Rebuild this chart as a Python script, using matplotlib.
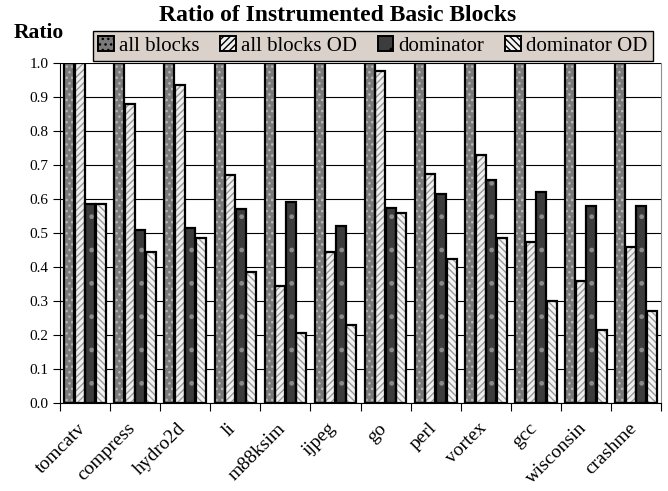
import numpy as np
import matplotlib.pyplot as plt
import matplotlib.transforms as mtransforms

plt.rcParams['font.family'] = ['Liberation Serif', 'DejaVu Serif']
plt.rcParams['hatch.linewidth'] = 1.0

# -----------------------------
# Data
# -----------------------------
benchmarks = ["tomcatv", "compress", "hydro2d", "li", "m88ksim", "ijpeg",
              "go", "perl", "vortex", "gcc", "wisconsin", "crashme"]
all_blocks = [1.0, 1.0, 1.0, 1.0, 1.0, 1.0, 1.0, 1.0, 1.0, 1.0, 1.0, 1.0]
all_blocks_od = [1.0, 0.88, 0.935, 0.67, 0.345, 0.445, 0.975, 0.675, 0.73, 0.475, 0.36, 0.46]
dominator = [0.585, 0.51, 0.515, 0.57, 0.59, 0.52, 0.575, 0.615, 0.655, 0.62, 0.58, 0.58]
dominator_od = [0.585, 0.445, 0.485, 0.385, 0.205, 0.23, 0.56, 0.425, 0.485, 0.30, 0.215, 0.27]
series_names = ["all blocks", "all blocks OD", "dominator", "dominator OD"]
y_ticks = [0.0, 0.1, 0.2, 0.3, 0.4, 0.5, 0.6, 0.7, 0.8, 0.9, 1.0]

# -----------------------------
# Styles
# -----------------------------
styles = [
    dict(face="#7a7a7a", hatch="...", hcolor="#b8b8b8"),
    dict(face="#f0f0f0", hatch="/////", hcolor="#9a9a9a"),
    dict(face="#3c3c3c", hatch=".", hcolor="#8a8a8a"),
    dict(face="#f4f4f4", hatch="\\\\\\\\\\", hcolor="#9a9a9a"),
]

fig = plt.figure(figsize=(6.68, 4.91), dpi=100)
ax = fig.add_axes([0.0898, 0.179, 0.9, 0.6927])

x = np.arange(len(benchmarks))
w = 0.21
data = [all_blocks, all_blocks_od, dominator, dominator_od]
handles = []
for i, (vals, st) in enumerate(zip(data, styles)):
    pos = x + (i - 1.5) * w
    ax.bar(pos, vals, w * 0.95, color=st["face"], hatch=st["hatch"],
           edgecolor=st["hcolor"], linewidth=0, zorder=3)
    ax.bar(pos, vals, w * 0.95, fill=False, edgecolor="black",
           linewidth=1.6, zorder=4)
    h = plt.Rectangle((0, 0), 1, 1, facecolor=st["face"], hatch=st["hatch"],
                      edgecolor="black", linewidth=1.4)
    handles.append(h)

ax.set_xlim(-0.5, len(benchmarks) - 0.5)
ax.set_ylim(0, 1.0)
ax.set_yticks(y_ticks)
ax.set_yticklabels([f"{v:.1f}" for v in y_ticks], fontsize=11)
ax.yaxis.grid(True, color="black", linewidth=0.8, zorder=0)
ax.set_axisbelow(True)

ax.set_xticks(x)
ax.set_xticklabels(benchmarks, rotation=45, ha="right", rotation_mode="anchor",
                   fontsize=14)
ax.tick_params(axis="x", length=0, pad=12)
shift = mtransforms.ScaledTranslation(-8 / 100, 0, fig.dpi_scale_trans)
for lbl in ax.get_xticklabels():
    lbl.set_transform(lbl.get_transform() + shift)
ax.set_xticks(np.arange(len(benchmarks) + 1) - 0.5, minor=True)
ax.tick_params(axis="x", which="minor", length=6, width=0.8, direction="out")
ax.tick_params(axis="y", length=5, width=0.8, direction="out")

ax.spines["top"].set_visible(False)
ax.spines["right"].set_color("#909090")
ax.spines["left"].set_linewidth(0.8)
ax.spines["bottom"].set_linewidth(0.8)

leg = fig.legend(handles, series_names, ncol=4, loc="center",
                 bbox_to_anchor=(0.558, 0.907), fontsize=15, frameon=True,
                 fancybox=False, edgecolor="black", facecolor="#d9d1ca",
                 handlelength=0.75, handleheight=0.75, handletextpad=0.25,
                 columnspacing=1.0, borderpad=0.25, borderaxespad=0)
leg.get_frame().set_linewidth(1.0)
leg.get_frame().set_alpha(1.0)

fig.text(0.505, 0.968, "Ratio of Instrumented Basic Blocks", ha="center",
         va="center", fontsize=17, fontweight="bold")
fig.text(0.02, 0.932, "Ratio", ha="left", va="center", fontsize=15.5,
         fontweight="bold")

fig.savefig("out.png", dpi=100)
